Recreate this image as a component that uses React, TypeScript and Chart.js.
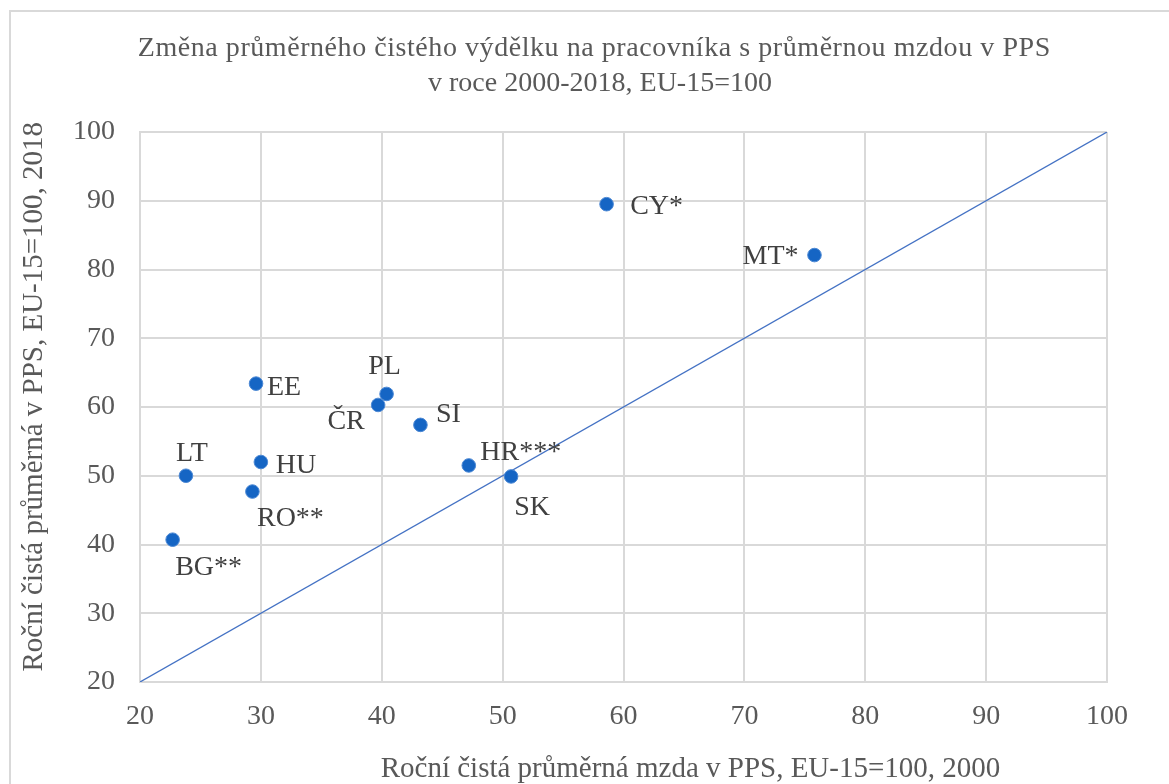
import React, { useEffect, useRef } from "react";
import { Chart, registerables } from "chart.js";

Chart.register(...registerables);

// ---- Data ----
const countries = ["EE", "PL", "ČR", "SI", "HR***", "SK", "LT", "HU", "RO**", "BG**", "CY*", "MT*"];
const wage2000 = [29.6, 40.4, 39.7, 43.2, 47.2, 50.7, 23.8, 30.0, 29.3, 22.7, 58.6, 75.8];
const wage2018 = [63.4, 61.9, 60.3, 57.4, 51.5, 49.9, 50.0, 52.0, 47.7, 40.7, 89.5, 82.1];
const parityX = [20, 100];
const parityY = [20, 100];
const axisMin = 20;
const axisMax = 100;
const tickStep = 10;

const titleLines = [
  "Změna průměrného čistého výdělku na pracovníka s průměrnou mzdou v PPS",
  "v roce 2000-2018, EU-15=100",
];
const xAxisTitle = "Roční čistá průměrná mzda v PPS, EU-15=100, 2000";
const yAxisTitle = "Roční čistá průměrná v PPS, EU-15=100, 2018";

// label placement (text centre offset from point, px)
const labelOffsets: [number, number][] = [
  [28, 2],
  [-2, -29],
  [-32, 15],
  [28, -12],
  [52, -15],
  [21, 29],
  [6, -24],
  [35, 2],
  [38, 25],
  [36, 26],
  [50, 1],
  [-44, 0],
];

const FONT = "'Liberation Serif', 'Times New Roman', serif";
const GRID = "#d9d9d9";
const TEXT = "#595959";

const textPlugin = {
  id: "customTexts",
  afterDatasetsDraw(chart: any) {
    const ctx = chart.ctx;
    const meta = chart.getDatasetMeta(1);
    ctx.save();
    ctx.font = `28px ${FONT}`;
    ctx.fillStyle = "#404040";
    ctx.textAlign = "center";
    ctx.textBaseline = "alphabetic";
    meta.data.forEach((el: any, i: number) => {
      const [dx, dy] = labelOffsets[i];
      ctx.fillText(countries[i], el.x + dx, el.y + dy + 9.3);
    });
    ctx.restore();
  },
  afterDraw(chart: any) {
    const ctx = chart.ctx;
    ctx.save();
    ctx.fillStyle = TEXT;
    ctx.textAlign = "center";
    ctx.textBaseline = "alphabetic";
    ctx.font = `28px ${FONT}`;
    // line 1 is rendered slightly wider in the reference
    const w1 = ctx.measureText(titleLines[0]).width;
    const target = 913;
    const ls = Math.max(0, (target - w1) / titleLines[0].length);
    (ctx as any).letterSpacing = `${ls}px`;
    ctx.fillText(titleLines[0], 594 + ls / 2, 56);
    (ctx as any).letterSpacing = "0px";
    ctx.fillText(titleLines[1], 600, 90.7);
    ctx.font = `29px ${FONT}`;
    ctx.fillText(xAxisTitle, 690.5, 776.7);
    ctx.translate(41.7, 396.7);
    ctx.rotate(-Math.PI / 2);
    ctx.fillText(yAxisTitle, 0, 0);
    ctx.restore();
  },
};

export default function App() {
  const ref = useRef<HTMLCanvasElement | null>(null);

  useEffect(() => {
    if (!ref.current) return;
    const tickFont = { family: FONT, size: 28 };
    const chart = new Chart(ref.current, {
      type: "scatter",
      data: {
        datasets: [
          {
            type: "line",
            label: "parity",
            data: parityX.map((x, i) => ({ x, y: parityY[i] })),
            borderColor: "#4472C4",
            borderWidth: 1.3,
            pointRadius: 0,
            fill: false,
            order: 2,
          },
          {
            type: "scatter",
            label: "countries",
            data: wage2000.map((x, i) => ({ x, y: wage2018[i] })),
            backgroundColor: "#1565c4",
            borderColor: "#4c88d4",
            borderWidth: 1,
            pointRadius: 6.8,
            order: 1,
          },
        ],
      },
      options: {
        animation: false,
        responsive: false,
        layout: { padding: { top: 132, right: 62, left: 0, bottom: 0 } },
        plugins: {
          legend: { display: false },
          tooltip: { enabled: false },
          title: { display: false },
        },
        scales: {
          x: {
            type: "linear",
            min: axisMin,
            max: axisMax,
            ticks: { stepSize: tickStep, font: tickFont, color: TEXT, padding: 18 },
            grid: { color: GRID, lineWidth: 2, drawTicks: false },
            border: { display: true, color: GRID, width: 2 },
            afterFit: (s: any) => {
              s.height = 102;
            },
          },
          y: {
            type: "linear",
            min: axisMin,
            max: axisMax,
            ticks: { stepSize: tickStep, font: tickFont, color: TEXT, padding: 25 },
            grid: { color: GRID, lineWidth: 2, drawTicks: false },
            border: { display: true, color: GRID, width: 2 },
            afterFit: (s: any) => {
              s.width = 140;
            },
          },
        },
      },
      plugins: [textPlugin],
    } as any);
    return () => chart.destroy();
  }, []);

  return (
    <div style={{ position: "fixed", inset: 0, overflow: "hidden", background: "#fff" }}>
      <div
        style={{
          position: "absolute",
          left: 9,
          top: 10,
          width: 1220,
          height: 820,
          border: `2px solid ${GRID}`,
          boxSizing: "border-box",
        }}
      />
      <canvas
        ref={ref}
        width={1169}
        height={784}
        style={{ position: "absolute", left: 0, top: 0, width: 1169, height: 784 }}
      />
    </div>
  );
}
